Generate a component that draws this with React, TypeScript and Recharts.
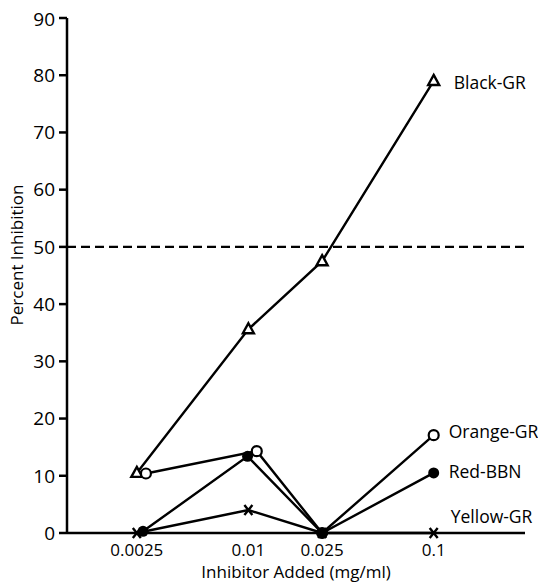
import { LineChart, Line, XAxis, YAxis, ReferenceLine } from 'recharts'

// concentrations (mg/ml) and percent inhibition per inhibitor
const concentrations = [0.0025, 0.01, 0.025, 0.1]
const blackGR = [10.5, 35.6, 47.5, 79]
const orangeGR = [10.4, 14.3, 0, 17.1]
const redBBN = [0.3, 13.4, 0, 10.5]
const yellowGR = [0, 4, 0, 0]
// plotted x of the points, where the figure nudges them sideways
const orangeX = [0.0028, 0.0111, 0.025, 0.1]
const redX = [0.0027, 0.0099, 0.025, 0.1]
const yTicks = [0, 10, 20, 30, 40, 50, 60, 70, 80, 90]

const FONT = '"Open Sans", sans-serif'

const toRows = (xs: number[], ys: number[]) => xs.map((x, i) => ({ x, y: ys[i] }))

const Triangle = (p: any) => (
  <path
    key={p.index}
    d={`M${p.cx},${p.cy - 6} L${p.cx + 5.5},${p.cy + 4} L${p.cx - 5.5},${p.cy + 4} Z`}
    fill="#fff"
    stroke="#000"
    strokeWidth={2.4}
  />
)
const OpenCircle = (p: any) => (
  <circle key={p.index} cx={p.cx} cy={p.cy} r={5} fill="#fff" stroke="#000" strokeWidth={2.2} />
)
const FilledCircle = (p: any) => <circle key={p.index} cx={p.cx} cy={p.cy} r={5.5} fill="#000" />
const Cross = (p: any) => (
  <path
    key={p.index}
    d={`M${p.cx - 4},${p.cy - 5} L${p.cx + 4},${p.cy + 5} M${p.cx + 4},${p.cy - 5} L${p.cx - 4},${p.cy + 5}`}
    stroke="#000"
    strokeWidth={2.4}
  />
)

const nameLabel = (name: string, dx: number, dy: number) => (p: any) =>
  p.index === concentrations.length - 1 ? (
    <text x={p.x + dx} y={p.y + dy} fontSize={17.5} fontFamily={FONT} fill="#000" dominantBaseline="middle">
      {name}
    </text>
  ) : null

export default function App() {
  return (
    <>
      <style>{'body { overflow: hidden; }'}</style>
      <LineChart width={538} height={575} margin={{ top: 10, right: 21, left: 0, bottom: 0 }}>
        <XAxis
          type="number"
          dataKey="x"
          scale="log"
          domain={[0.00105, 0.311]}
          allowDataOverflow
          ticks={concentrations}
          tickFormatter={(v: number) => String(v)}
          axisLine={{ stroke: '#000', strokeWidth: 2.5 }}
          tickLine={false}
          tickMargin={5}
          height={50}
          tick={{ fill: '#000', fontSize: 17, fontFamily: FONT }}
          label={(props: any) => (
            <text
              x={props.viewBox.x + props.viewBox.width / 2}
              y={565}
              textAnchor="middle"
              dominantBaseline="middle"
              fontSize={17}
              fontFamily={FONT}
              fill="#000"
            >
              Inhibitor Added (mg/ml)
            </text>
          )}
        />
        <YAxis
          type="number"
          domain={[0, 90]}
          ticks={yTicks}
          width={59}
          axisLine={{ stroke: '#000', strokeWidth: 2.5 }}
          tickLine={{ stroke: '#000', strokeWidth: 2.5 }}
          tickSize={8}
          tickMargin={4}
          tick={{ fill: '#000', fontSize: 19, fontFamily: FONT }}
          label={() => (
            <text
              x={10}
              y={247}
              transform="rotate(-90 10 247)"
              textAnchor="middle"
              dominantBaseline="middle"
              fontSize={17}
              fontFamily={FONT}
              fill="#000"
            >
              Percent Inhibition
            </text>
          )}
        />
        <ReferenceLine y={50} stroke="#000" strokeWidth={2.2} strokeDasharray="9 5" />
        <Line
          data={toRows(concentrations, blackGR)}
          dataKey="y"
          stroke="#000"
          strokeWidth={2.4}
          dot={Triangle}
          label={nameLabel('Black-GR', 20, 3)}
          isAnimationActive={false}
        />
        <Line
          data={toRows(orangeX, orangeGR)}
          dataKey="y"
          stroke="#000"
          strokeWidth={2.4}
          dot={OpenCircle}
          label={nameLabel('Orange-GR', 15, -2)}
          isAnimationActive={false}
        />
        <Line
          data={toRows(redX, redBBN)}
          dataKey="y"
          stroke="#000"
          strokeWidth={2.4}
          dot={FilledCircle}
          label={nameLabel('Red-BBN', 15, 0)}
          isAnimationActive={false}
        />
        <Line
          data={toRows(concentrations, yellowGR)}
          dataKey="y"
          stroke="#000"
          strokeWidth={2.4}
          dot={Cross}
          label={nameLabel('Yellow-GR', 17, -15)}
          isAnimationActive={false}
        />
      </LineChart>
    </>
  )
}
